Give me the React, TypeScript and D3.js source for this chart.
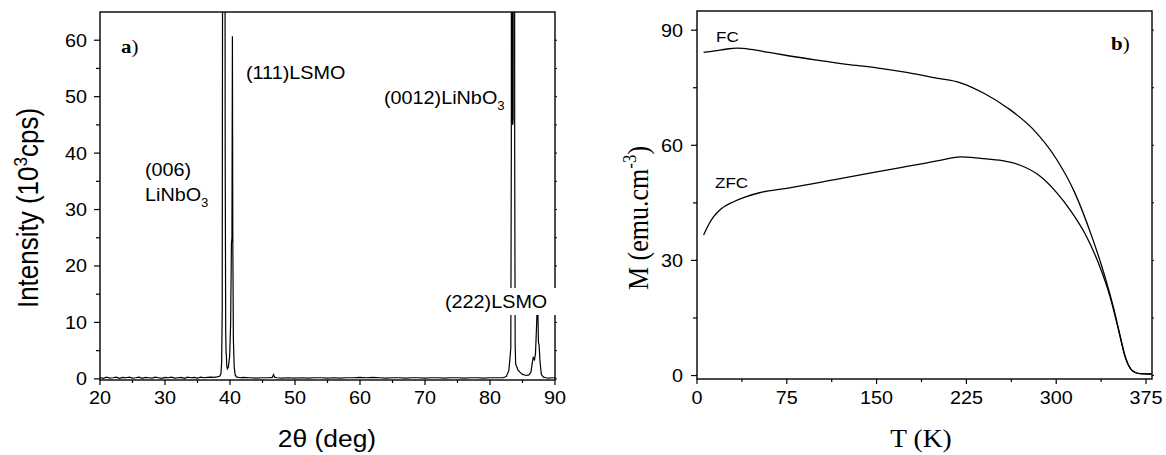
import React from "react";
import * as d3 from "d3";

// XRD scan, [2theta (deg), intensity (10^3 cps)], read off panel a)
const xrdScan: [number, number][] = [
  [20, 0.25], [20.5, 0.1], [21, 0.3], [21.5, 0.15], [22, 0.2], [22.5, 0.3], [23, 0.1], [23.5, 0.25],
  [24, 0.2], [24.5, 0.3], [25, 0.15], [25.5, 0.2], [26, 0.3], [26.5, 0.1], [27, 0.25], [27.5, 0.2],
  [28, 0.15], [28.5, 0.3], [29, 0.2], [29.5, 0.1], [30, 0.25], [30.5, 0.2], [31, 0.3], [31.5, 0.15],
  [32, 0.2], [32.5, 0.25], [33, 0.1], [33.5, 0.3], [34, 0.2], [34.5, 0.25], [35, 0.15], [35.5, 0.3],
  [36, 0.2], [36.5, 0.25], [37, 0.3], [37.5, 0.25], [38, 0.35], [38.4, 0.45], [38.6, 0.9], [38.72, 3],
  [38.8, 12], [38.9, 120], [39.05, 400], [39.2, 120], [39.26, 40], [39.34, 8], [39.4, 4.6], [39.44, 4.2],
  [39.5, 2.4], [39.6, 1.8], [39.75, 2.1], [39.95, 4], [40.1, 10], [40.22, 24], [40.3, 25], [40.37, 60.7],
  [40.43, 25], [40.52, 7], [40.65, 2], [40.8, 0.7], [41, 0.35], [41.5, 0.2], [42, 0.25], [43, 0.2],
  [44, 0.15], [45, 0.2], [46, 0.2], [46.5, 0.25], [46.7, 0.75], [46.85, 0.3], [47.2, 0.2], [48, 0.15],
  [49, 0.2], [50, 0.15], [51, 0.2], [52, 0.15], [53, 0.2], [54, 0.2], [55, 0.15], [56, 0.2],
  [57, 0.15], [58, 0.2], [59, 0.2], [60, 0.25], [61, 0.2], [62, 0.25], [63, 0.2], [64, 0.15],
  [65, 0.2], [66, 0.2], [67, 0.15], [68, 0.2], [69, 0.2], [70, 0.15], [71, 0.2], [72, 0.2],
  [73, 0.15], [74, 0.2], [75, 0.2], [76, 0.15], [77, 0.2], [78, 0.2], [79, 0.15], [80, 0.2],
  [81, 0.2], [82, 0.2], [82.5, 0.4], [82.9, 1.5], [83.1, 4], [83.2, 5.5], [83.28, 40], [83.34, 400],
  [83.44, 46], [83.5, 45], [83.56, 46], [83.66, 400], [83.8, 40], [83.87, 6], [83.95, 2.6], [84.3, 1.6],
  [84.6, 1.2], [85, 0.8], [85.6, 0.6], [86, 0.7], [86.3, 1.2], [86.5, 2.8], [86.65, 3.8], [86.85, 3.4],
  [87, 4.5], [87.15, 9], [87.27, 13], [87.35, 13], [87.45, 6.5], [87.55, 6], [87.7, 3], [87.9, 0.8],
  [88.2, 0.3], [88.6, 0.2], [89, 0.15], [89.5, 0.2], [90, 0.2],
];

// magnetisation, [T (K), M (emu/cm3)], panel b)
const fcCurve: [number, number][] = [
  [5.5, 84.2], [15, 84.6], [25, 85.1], [33.5, 85.3], [45, 85.0], [60, 84.2], [75, 83.4], [100, 82.2],
  [125, 81.1], [150, 80.2], [175, 79.0], [200, 77.5], [220, 76.3], [240, 73.5], [260, 69.6], [280, 64.4],
  [300, 56.5], [315, 48.0], [330, 36.0], [340, 26.5], [348, 17.5], [354, 9.5], [358, 4.5],
  [362, 1.8], [366, 0.8], [370, 0.5], [379.5, 0.4],
];
const zfcCurve: [number, number][] = [
  [5.5, 36.6], [10, 39.5], [13.9, 41.4], [20, 43.4], [30.6, 45.3], [40, 46.5], [53, 47.7], [75, 48.8],
  [114, 51], [150, 53.1], [170, 54.2], [190, 55.3], [205, 56.2], [220, 57], [237, 56.6], [255, 56.0],
  [270, 54.8], [285, 52.3], [300, 47.8], [312, 43.0], [324, 37.0], [335, 29.5], [345, 20.5], [352, 12.0],
  [357, 5.5], [362, 1.8], [366, 0.8], [370, 0.5], [379.5, 0.4],
];

const xrdTicksX = [20, 30, 40, 50, 60, 70, 80, 90];
const xrdMinorX = [25, 35, 45, 55, 65, 75, 85];
const xrdTicksY = [0, 10, 20, 30, 40, 50, 60];
const xrdMinorY = [5, 15, 25, 35, 45, 55];
const magTicksX = [0, 75, 150, 225, 300, 375];
const magMinorX = [37.5, 112.5, 187.5, 262.5, 337.5];
const magTicksY = [0, 30, 60, 90];
const magMinorY = [15, 45, 75];

const SANS = "'Liberation Sans', Arial, sans-serif";
const SERIF = "'Liberation Serif', 'Times New Roman', serif";
const SX = 1.1; // the source picture is a little stretched sideways

const Txt = ({ x, y, size, family = SANS, anchor = "start", rotate = false, weight = "normal", children }: any) => (
  <text
    transform={`translate(${x},${y}) scale(${SX},1)${rotate ? " rotate(-90)" : ""}`}
    fontFamily={family}
    fontSize={size}
    fontWeight={weight}
    textAnchor={anchor}
    fill="#000"
  >
    {children}
  </text>
);

const Axes = ({ x, y, ticksX, minorX, ticksY, minorY }: any) => {
  const [x0, x1] = x.range();
  const [y0, y1] = y.range();
  return (
    <g stroke="#000" strokeWidth={1.2}>
      <rect x={x0} y={y1} width={x1 - x0} height={y0 - y1} fill="none" strokeWidth={1.4} />
      {ticksX.map((t: number) => <line key={"x" + t} x1={x(t)} x2={x(t)} y1={y0} y2={y0 + 5} />)}
      {minorX.map((t: number) => <line key={"mx" + t} x1={x(t)} x2={x(t)} y1={y0} y2={y0 + 3} />)}
      {ticksY.map((t: number) => <line key={"y" + t} x1={x0 - 6} x2={x0} y1={y(t)} y2={y(t)} />)}
      {minorY.map((t: number) => <line key={"my" + t} x1={x0 - 4} x2={x0} y1={y(t)} y2={y(t)} />)}
      {[...ticksY, ...minorY].map((t: number) => (
        <line key={"r" + t} x1={x1} x2={x1 + 2} y1={y(t)} y2={y(t)} strokeWidth={1} />
      ))}
    </g>
  );
};

const App = () => {
  const xA = d3.scaleLinear().domain([20, 90]).range([100, 555]);
  const yA = d3.scaleLinear().domain([-0.2, 65]).range([380, 12]);
  const xB = d3.scaleLinear().domain([0, 380]).range([697, 1152]);
  const yB = d3.scaleLinear().domain([-0.9, 95]).range([379, 11]);

  const xrdLine = d3.line<[number, number]>().x((d) => xA(d[0])).y((d) => yA(d[1]));
  const magLine = d3
    .line<[number, number]>()
    .x((d) => xB(d[0]))
    .y((d) => yB(d[1]))
    .curve(d3.curveMonotoneX);

  return (
    <svg width={1166} height={455} style={{ position: "absolute", left: 0, top: 0, background: "#fff" }}>
      <defs>
        <clipPath id="clipA">
          <rect x={100} y={12} width={455} height={368} />
        </clipPath>
      </defs>

      {/* panel a */}
      <path d={xrdLine(xrdScan) || ""} fill="none" stroke="#000" strokeWidth={1.2} clipPath="url(#clipA)" />
      <Axes x={xA} y={yA} ticksX={xrdTicksX} minorX={xrdMinorX} ticksY={xrdTicksY} minorY={xrdMinorY} />
      {xrdTicksX.map((t) => (
        <Txt key={t} x={xA(t)} y={404} size={18} anchor="middle">{t}</Txt>
      ))}
      {xrdTicksY.map((t) => (
        <Txt key={t} x={87} y={yA(t) + 6.5} size={18} anchor="end">{t}</Txt>
      ))}
      <Txt x={327} y={447} size={24} anchor="middle">2θ (deg)</Txt>
      <Txt x={38} y={208} size={26} anchor="middle" rotate>
        Intensity (10<tspan dy={-10} fontSize={17}>3</tspan><tspan dy={10}>cps)</tspan>
      </Txt>
      <Txt x={121} y={53} size={19} family={SERIF} weight="bold">a<tspan fontWeight="normal">)</tspan></Txt>
      <Txt x={246} y={79} size={18}>(111)LSMO</Txt>
      <Txt x={145} y={176} size={18}>(006)</Txt>
      <Txt x={145} y={201} size={18}>LiNbO<tspan dy={6} fontSize={12}>3</tspan></Txt>
      <Txt x={384} y={104} size={18}>(0012)LiNbO<tspan dy={6} fontSize={12}>3</tspan></Txt>
      <rect x={442} y={288} width={116} height={27} fill="#fff" />
      <Txt x={445} y={308} size={18}>(222)LSMO</Txt>

      {/* panel b */}
      <path d={magLine(fcCurve) || ""} fill="none" stroke="#000" strokeWidth={1.3} />
      <path d={magLine(zfcCurve) || ""} fill="none" stroke="#000" strokeWidth={1.3} />
      <Axes x={xB} y={yB} ticksX={magTicksX} minorX={magMinorX} ticksY={magTicksY} minorY={magMinorY} />
      {magTicksX.map((t) => (
        <Txt key={t} x={xB(t)} y={404} size={18} anchor="middle">{t}</Txt>
      ))}
      {magTicksY.map((t) => (
        <Txt key={t} x={683} y={yB(t) + 6.5} size={18} anchor="end">{t}</Txt>
      ))}
      <Txt x={921} y={447} size={25} family={SERIF} anchor="middle">T (K)</Txt>
      <Txt x={648} y={218} size={26} family={SERIF} anchor="middle" rotate>
        M (emu.cm<tspan dy={-11} fontSize={17}>-3</tspan><tspan dy={11}>)</tspan>
      </Txt>
      <Txt x={716} y={42} size={15.5}>FC</Txt>
      <Txt x={715} y={188} size={15.5}>ZFC</Txt>
      <Txt x={1111} y={50} size={19} family={SERIF} weight="bold">b<tspan fontWeight="normal">)</tspan></Txt>
    </svg>
  );
};

export default App;
